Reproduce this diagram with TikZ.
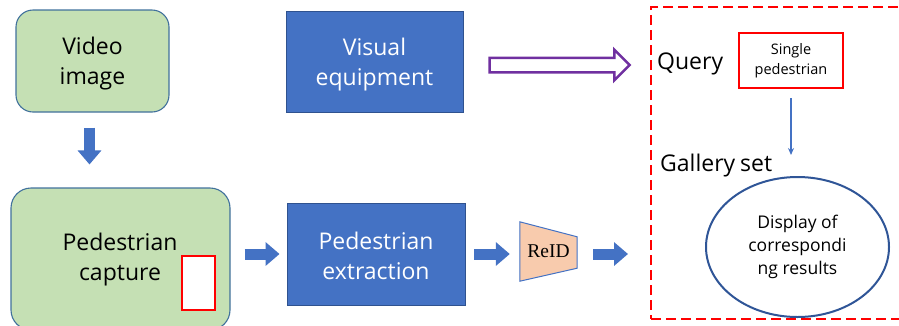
\documentclass[tikz,border=0pt]{standalone}
\usepackage{fontspec}
\setmainfont{Open Sans}
\newfontfamily\reidfont{Liberation Serif}
\usetikzlibrary{arrows.meta,shapes.arrows,shapes.geometric,calc}
\definecolor{gfill}{HTML}{C5E0B4}
\definecolor{gborder}{HTML}{41719C}
\definecolor{bfill}{HTML}{4472C4}
\definecolor{bborder}{HTML}{2F528F}
\definecolor{pfill}{HTML}{F8CBAD}
\definecolor{purp}{HTML}{7030A0}
\definecolor{ellb}{HTML}{2F5597}
\tikzset{
  greenbox/.style={draw=gborder, fill=gfill, line width=1.1pt, rounded corners=17pt, inner sep=0pt},
  bluebox/.style={draw=bborder, fill=bfill, line width=0.9pt, inner sep=0pt},
  bigtxt/.style={align=center, inner sep=0pt, font=\fontsize{23}{30}\selectfont},
  blk/.style={draw=bfill, line width=11pt, -{Triangle[length=14pt 0 0, width=23pt 0 0]}},
  lbl/.style={anchor=west, inner sep=0pt, font=\fontsize{23}{27}\selectfont},
}
\begin{document}
\begin{tikzpicture}[x=1pt,y=-1pt]
\useasboundingbox (0,0) rectangle (899,325);
\begin{scope}
\clip (0,0) rectangle (899,325);
% left column
\node[greenbox, minimum width=153pt, minimum height=102pt] (vid) at (92.5,61) {};
\node[bigtxt] (vidtxt) at (92.5,64) {Video\\image};
\node[greenbox, rounded corners=20pt, minimum width=219pt, minimum height=142pt] (cap) at (120.5,259) {};
\node[bigtxt] (captxt) at (120,260) {Pedestrian\\capture};
\node[draw=red, fill=white, line width=2pt, minimum width=33pt, minimum height=54pt, inner sep=0pt] (redr) at (198.5,283) {};
% blue boxes
\node[bluebox, minimum width=177pt, minimum height=101pt] (vis) at (374.5,61.5) {};
\node[bigtxt, text=white] (vistxt) at (374.5,64.5) {Visual\\equipment};
\node[bluebox, minimum width=178pt, minimum height=102pt] (ext) at (376,254) {};
\node[bigtxt, text=white] (exttxt) at (376,256) {Pedestrian\\extraction};
% ReID trapezoid
\node[minimum width=57pt, minimum height=59pt, inner sep=0pt] (reid) at (548.5,251.5) {};
\filldraw[fill=pfill, draw=bfill, line width=1pt] (reid.north west) -- ([yshift=-15pt]reid.north east) -- ([yshift=13pt]reid.south east) -- (reid.south west) -- cycle;
\node[font=\reidfont\fontsize{19.5}{21}\selectfont, inner sep=0pt] (reidtxt) at (reid.center) {ReID};
% dashed region
\node[draw=red, dash pattern=on 10pt off 5pt, line width=2pt, minimum width=260pt, minimum height=312pt, inner sep=0pt] (dbox) at (781,163) {};
\node[lbl] (query) at (657,64) {Query};
\node[draw=red, line width=2pt, minimum width=104pt, minimum height=55pt, align=center, inner sep=0pt, font=\fontsize{14.5}{20}\selectfont] (sp) at (791,60.5) {Single\\pedestrian};
\node[lbl] (gal) at (660,166) {Gallery\hspace{-1pt} set};
\node[draw=ellb, fill=white, ellipse, line width=2pt, minimum width=183pt, minimum height=140pt, inner sep=0pt, align=center, font=\fontsize{17.5}{23}\selectfont] (ell) at (797.5,247) {Display of\\correspondi\\ng results};
\end{scope}
% connectors
\draw[blk, shorten <=15pt, shorten >=23pt] ([xshift=-3pt]vid.south) -- ([xshift=-3pt]vid.south |- cap.north);
\draw[blk, shorten <=14pt, shorten >=7pt] (cap.east |- ext.west) -- (ext.west);
\draw[blk, shorten <=9pt, shorten >=10pt] (ext.east) -- (ext.east -| reid.west);
\draw[blk, shorten <=16pt, shorten >=22pt] (reid.east |- ext.east) -- (ext.east -| dbox.west);
\node[single arrow, draw=purp, fill=white, line width=2.5pt, minimum height=140pt, minimum width=30pt, single arrow head extend=8pt, inner sep=6pt] (parrow) at (556,65) {};
\draw[bfill, line width=1.5pt, -{Stealth[length=7pt,width=6pt]}, shorten <=9pt, shorten >=21pt] (sp.south) -- (sp.south |- ell.north);
\end{tikzpicture}
\end{document}
